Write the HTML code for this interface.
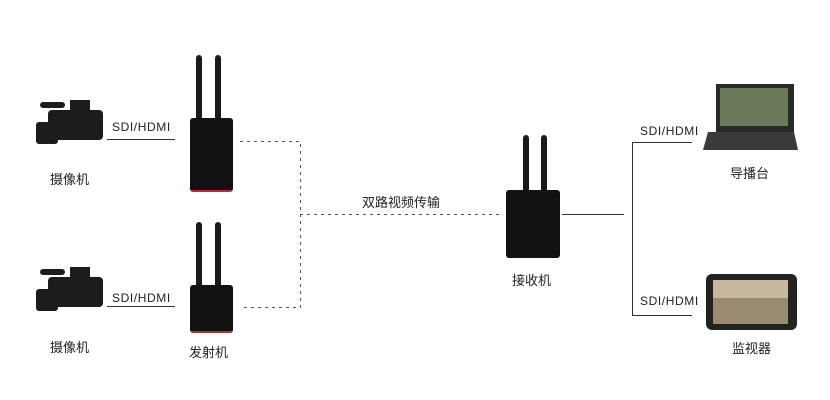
<!DOCTYPE html>
<html><head><meta charset="utf-8"><style>
body{margin:0;background:#fff;}
#c{position:relative;width:830px;height:400px;overflow:hidden;font-family:"Liberation Sans","Noto Sans CJK SC",sans-serif;color:#222;}
.t{position:absolute;font-size:12px;white-space:nowrap;letter-spacing:0.6px;}
.cn{position:absolute;font-size:13px;white-space:nowrap;}
.ant{position:absolute;width:6px;background:#1a1a1a;border-radius:3px 3px 0 0;}
.box{position:absolute;background:#111;border-radius:3px;}
</style></head><body><div id="c">
<svg width="830" height="400" style="position:absolute;left:0;top:0">
<g stroke="#333" stroke-width="1" fill="none">
<line x1="107" y1="139.5" x2="175" y2="139.5"/>
<line x1="107" y1="306.5" x2="175" y2="306.5"/>
<line x1="562" y1="214.5" x2="624" y2="214.5"/>
<polyline points="692,142.5 632.5,142.5 632.5,315.5 692,315.5"/>
</g>
<g stroke="#555" stroke-width="1" fill="none" stroke-dasharray="3,4">
<polyline points="240,141.5 300.5,141.5 300.5,307.5 240,307.5"/>
<line x1="300" y1="214.5" x2="500" y2="214.5"/>
</g>
<g fill="#1c1c1c">
<rect x="48" y="110" width="55" height="30" rx="4"/><rect x="36" y="122" width="22" height="22" rx="3"/><rect x="40" y="102" width="25" height="6" rx="3"/><rect x="70" y="100" width="20" height="12"/>
<rect x="48" y="277" width="55" height="30" rx="4"/><rect x="36" y="289" width="22" height="22" rx="3"/><rect x="40" y="269" width="25" height="6" rx="3"/><rect x="70" y="267" width="20" height="12"/>
</g>
<rect x="716" y="84" width="78" height="48" fill="#2a2a2a"/>
<rect x="720" y="88" width="68" height="38" fill="#6a7a5a"/>
<polygon points="708,132 794,132 798,150 703,150" fill="#3a3a3a"/>
<rect x="706" y="274" width="91" height="56" rx="6" fill="#222"/>
<rect x="713" y="280" width="75" height="44" fill="#9a8a70"/>
<rect x="713" y="280" width="75" height="18" fill="#c8b8a0"/>
</svg>
<div class="t" style="left:112px;top:120px">SDI/HDMI</div>
<div class="t" style="left:112px;top:291px">SDI/HDMI</div>
<div class="t" style="left:640px;top:124px">SDI/HDMI</div>
<div class="t" style="left:640px;top:294px">SDI/HDMI</div>
<div class="cn" style="left:50px;top:169px">摄像机</div>
<div class="cn" style="left:50px;top:337px">摄像机</div>
<div class="cn" style="left:189px;top:174px">发射机</div>
<div class="cn" style="left:189px;top:342px">发射机</div>
<div class="cn" style="left:362px;top:192px">双路视频传输</div>
<div class="cn" style="left:512px;top:270px">接收机</div>
<div class="cn" style="left:730px;top:163px">导播台</div>
<div class="cn" style="left:732px;top:338px">监视器</div>
<div class="ant" style="left:196px;top:55px;height:64px"></div>
<div class="ant" style="left:215px;top:55px;height:64px"></div>
<div class="box" style="left:190px;top:118px;width:43px;height:72px;border-bottom:2px solid #a33"></div>
<div class="ant" style="left:196px;top:222px;height:64px"></div>
<div class="ant" style="left:215px;top:222px;height:64px"></div>
<div class="box" style="left:190px;top:285px;width:43px;height:46px;border-bottom:2px solid #a33"></div>
<div class="ant" style="left:523px;top:135px;height:56px"></div>
<div class="ant" style="left:541px;top:135px;height:56px"></div>
<div class="box" style="left:506px;top:190px;width:54px;height:68px"></div>
</div></body></html>
